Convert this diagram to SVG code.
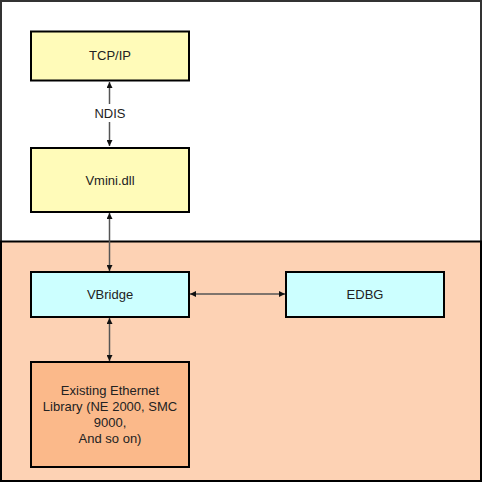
<svg xmlns="http://www.w3.org/2000/svg" width="483" height="484" viewBox="0 0 483 484">
<defs>
<style>
.box{stroke:#000;stroke-width:2}
.y{fill:#FFFBB9}
.c{fill:#CCFFFF}
.o{fill:#FBB98A}
.t{font-family:"Liberation Sans",Arial,sans-serif;font-size:13px;fill:#222;text-anchor:middle}
.ln{stroke:#555;stroke-width:1.5;fill:none}
</style>
<marker id="ah" viewBox="0 0 10 10" refX="10" refY="5" markerWidth="6" markerHeight="6" markerUnits="userSpaceOnUse" orient="auto-start-reverse">
<path d="M0,0 L10,5 L0,10 z" fill="#111"/>
</marker>
</defs>
<rect x="1" y="1" width="480" height="480" fill="#fff" stroke="#333" stroke-width="2"/>
<rect x="1" y="241.5" width="480" height="239.5" fill="#FDD2B4" stroke="#000" stroke-width="2"/>
<g id="tcpip"><rect class="box y" x="31" y="31.5" width="158" height="49"/><text class="t" x="110" y="60">TCP/IP</text></g>
<g id="vmini"><rect class="box y" x="31" y="148" width="158" height="64"/><text class="t" x="110" y="184.5">Vmini.dll</text></g>
<g id="vbridge"><rect class="box c" x="31" y="272" width="158" height="45"/><text class="t" x="110" y="298.5">VBridge</text></g>
<g id="edbg"><rect class="box c" x="286" y="272" width="158" height="45"/><text class="t" x="365" y="298.5">EDBG</text></g>
<g id="ethlib"><rect class="box o" x="31" y="362" width="158" height="105"/>
<text class="t" x="110" y="394.5">Existing Ethernet</text>
<text class="t" x="110" y="410.5">Library (NE 2000, SMC</text>
<text class="t" x="110" y="426.5">9000,</text>
<text class="t" x="110" y="442.5">And so on)</text></g>
<g id="connectors">
<line class="ln" x1="109.5" y1="82" x2="109.5" y2="104" marker-start="url(#ah)"/>
<line class="ln" x1="109.5" y1="122" x2="109.5" y2="146" marker-end="url(#ah)"/>
<text class="t" x="110" y="118">NDIS</text>
<line class="ln" x1="109.5" y1="213" x2="109.5" y2="271" marker-start="url(#ah)" marker-end="url(#ah)"/>
<line class="ln" x1="109.5" y1="318" x2="109.5" y2="361" marker-start="url(#ah)" marker-end="url(#ah)"/>
<line class="ln" x1="190" y1="294" x2="285" y2="294" marker-start="url(#ah)" marker-end="url(#ah)"/>
</g>
</svg>
